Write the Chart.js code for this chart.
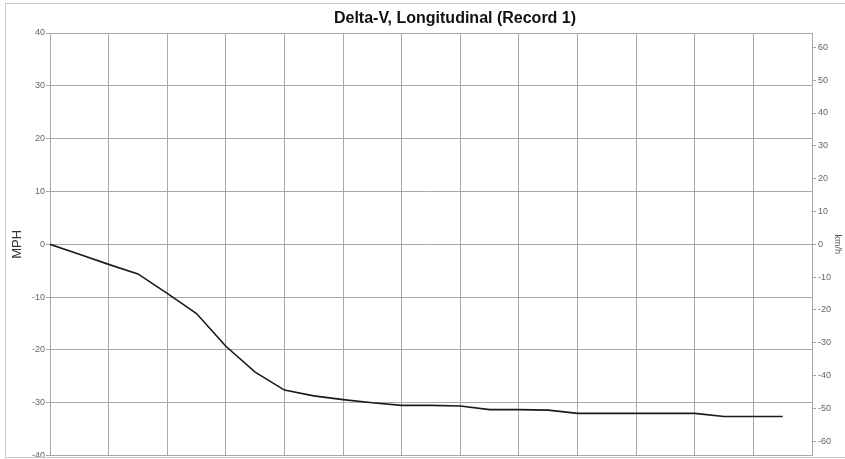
<!DOCTYPE html>
<html>
<head>
<meta charset="utf-8">
<script src="https://cdn.jsdelivr.net/npm/chart.js@4.4.1/dist/chart.umd.min.js"></script>
<style>
  body { margin: 0; background: #fff; }
  #wrap { position: relative; width: 845px; height: 459px; overflow: hidden; }
  #frame { position: absolute; left: 5px; top: 3px; width: 900px; height: 453px; border: 1px solid #c8c8c8; pointer-events: none; }
  canvas { position: absolute; left: 0; top: 0; }
</style>
</head>
<body>
<div id="wrap">
  <canvas id="myChart" width="845" height="463"></canvas>
  <div id="frame"></div>
</div>
<script>
// time in ms, one sample every 5 ms
const timeMs = [0, 5, 10, 15, 20, 25, 30, 35, 40, 45, 50, 55, 60, 65, 70, 75, 80, 85, 90, 95, 100, 105, 110, 115, 120, 125];
// longitudinal delta-V, mph
const deltaV = [0, -1.9, -3.8, -5.6, -9.3, -13.1, -19.3, -24.2, -27.6, -28.7, -29.4, -30.0, -30.5, -30.5, -30.6,
  -31.3, -31.3, -31.4, -32.0, -32.0, -32.0, -32.0, -32.0, -32.6, -32.6, -32.6];
const mphTicks = [-40, -30, -20, -10, 0, 10, 20, 30, 40];
const kmhTicks = [-60, -50, -40, -30, -20, -10, 0, 10, 20, 30, 40, 50, 60];
const KMH = 1.609344;
const chartTitle = "Delta-V, Longitudinal (Record 1)";

const points = timeMs.map((t, i) => ({ x: t, y: deltaV[i] }));
const ctx = document.getElementById("myChart");

// title sits a bit right of centre in the original, so draw it by hand
const titlePlugin = {
  id: "offTitle",
  afterDraw(chart) {
    const c = chart.ctx;
    c.save();
    c.font = "bold 16px 'Liberation Sans'";
    c.fillStyle = "#111";
    c.textAlign = "center";
    c.textBaseline = "middle";
    c.fillText(chartTitle, 455, 19);
    c.restore();
  },
};

new Chart(ctx, {
  type: "line",
  data: {
    datasets: [
      {
        label: "Delta-V",
        data: points,
        borderColor: "#1a1a1a",
        borderWidth: 1.6,
        pointRadius: 0,
        tension: 0,
        yAxisID: "y",
      },
    ],
  },
  plugins: [titlePlugin],
  options: {
    responsive: false,
    animation: false,
    layout: { padding: { left: 0, right: 0, top: 33, bottom: 0 } },
    plugins: {
      legend: { display: false },
      tooltip: { enabled: false },
      title: { display: false },
    },
    scales: {
      x: {
        type: "linear",
        min: 0,
        max: 130,
        ticks: { display: false, stepSize: 10 },
        grid: { color: "#a8a8a8", drawTicks: false },
        border: { color: "#a8a8a8" },
      },
      y: {
        position: "left",
        min: -40,
        max: 40,
        afterBuildTicks: (axis) => { axis.ticks = mphTicks.map((v) => ({ value: v })); },
        afterFit: (axis) => { axis.width = 50; },
        ticks: { color: "#666", font: { family: "Liberation Sans", size: 9 }, padding: 1 },
        grid: { color: "#a8a8a8", tickLength: 4 },
        border: { color: "#a8a8a8" },
        title: {
          display: true,
          text: "MPH",
          color: "#333",
          font: { family: "Liberation Sans", size: 13 },
          padding: { top: 10, bottom: 0 },
        },
      },
      y2: {
        position: "right",
        min: -40 * KMH,
        max: 40 * KMH,
        afterBuildTicks: (axis) => { axis.ticks = kmhTicks.map((v) => ({ value: v })); },
        afterFit: (axis) => { axis.width = 33; },
        ticks: { color: "#666", font: { family: "Liberation Sans", size: 9 }, padding: 2 },
        grid: { drawOnChartArea: false, color: "#a8a8a8", tickLength: 4 },
        border: { color: "#a8a8a8" },
        title: {
          display: true,
          text: "km/h",
          color: "#555",
          font: { family: "Liberation Sans", size: 9 },
          padding: { top: 2, bottom: 0 },
        },
      },
    },
  },
});
</script>
</body>
</html>
